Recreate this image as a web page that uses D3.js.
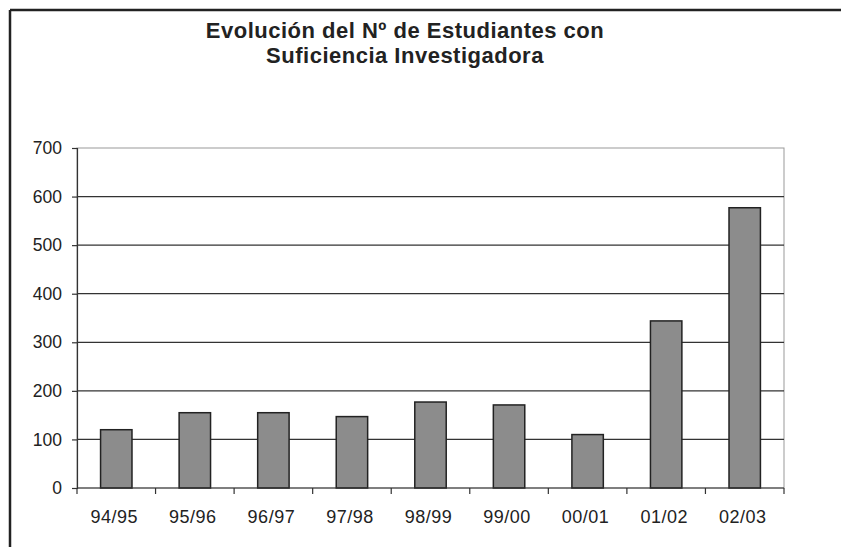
<!DOCTYPE html>
<html>
<head>
<meta charset="utf-8">
<script src="https://cdn.jsdelivr.net/npm/d3@7"></script>
<style>
  html, body { margin: 0; padding: 0; background: #fff; }
  svg { display: block; }
  text { font-family: "Liberation Sans", Arial, sans-serif; fill: #222; }
</style>
</head>
<body>
<svg id="chart" width="841" height="547"></svg>
<script>
// Academic years and number of students awarded "Suficiencia Investigadora"
const cursos = ["94/95", "95/96", "96/97", "97/98", "98/99", "99/00", "00/01", "01/02", "02/03"];
const estudiantes = [120, 155, 155, 147, 177, 171, 110, 344, 577];
const yTicks = [0, 100, 200, 300, 400, 500, 600, 700];
const tituloLineas = ["Evolución del Nº de Estudiantes con", "Suficiencia Investigadora"];

const svg = d3.select("#chart");
const W = 841, H = 547;
const m = { left: 77, right: 784, top: 148, bottom: 488 };

// Outer frame: top and left edges
svg.append("line").attr("x1", 10).attr("x2", W).attr("y1", 10).attr("y2", 10)
  .attr("stroke", "#222").attr("stroke-width", 2.5);
svg.append("line").attr("x1", 10).attr("x2", 10).attr("y1", 10).attr("y2", H)
  .attr("stroke", "#222").attr("stroke-width", 2.5);

// Title
const title = svg.append("text")
  .attr("x", 405).attr("y", 38)
  .attr("text-anchor", "middle")
  .style("font-size", "22px").style("font-weight", "bold")
  .style("letter-spacing", "0.5px");
tituloLineas.forEach((t, i) => {
  title.append("tspan").attr("x", 405).attr("dy", i === 0 ? 0 : 25).text(t);
});

const x = d3.scaleBand().domain(cursos).range([m.left, m.right]).paddingInner(0.6).paddingOuter(0.3);
const xEdge = d3.scaleBand().domain(cursos).range([m.left, m.right]);
const y = d3.scaleLinear().domain([0, 700]).range([m.bottom, m.top]);

// Plot area border
svg.append("rect")
  .attr("x", m.left).attr("y", m.top)
  .attr("width", m.right - m.left).attr("height", m.bottom - m.top)
  .attr("fill", "none").attr("stroke", "#999").attr("stroke-width", 1);

// Horizontal gridlines
svg.append("g").selectAll("line").data(yTicks.filter(d => d > 0 && d < 700)).join("line")
  .attr("x1", m.left).attr("x2", m.right)
  .attr("y1", d => y(d)).attr("y2", d => y(d))
  .attr("stroke", "#333").attr("stroke-width", 1.2);

// Y axis
const yAxis = svg.append("g")
  .attr("transform", `translate(${m.left},0)`)
  .call(d3.axisLeft(y).tickValues(yTicks).tickSize(5).tickPadding(10));
yAxis.select(".domain").attr("stroke", "#333").attr("stroke-width", 1.2);
yAxis.selectAll(".tick line").attr("stroke", "#333").attr("stroke-width", 1.2);
yAxis.selectAll(".tick text")
  .style("font-size", "17.5px").style("font-family", "Liberation Sans, Arial, sans-serif")
  .attr("fill", "#222");

// Bars
svg.append("g").selectAll("rect").data(cursos).join("rect")
  .attr("x", d => x(d))
  .attr("y", (d, i) => y(estudiantes[i]))
  .attr("width", x.bandwidth())
  .attr("height", (d, i) => y(0) - y(estudiantes[i]))
  .attr("fill", "#8c8c8c")
  .attr("stroke", "#222").attr("stroke-width", 1.5);

// X axis: baseline, ticks on category boundaries, centered labels
const xAxisG = svg.append("g");
xAxisG.append("line")
  .attr("x1", m.left).attr("x2", m.right).attr("y1", m.bottom).attr("y2", m.bottom)
  .attr("stroke", "#333").attr("stroke-width", 1.2);
const edges = cursos.map(d => xEdge(d)).concat([m.right]);
xAxisG.selectAll("line.tk").data(edges).join("line").attr("class", "tk")
  .attr("x1", d => d).attr("x2", d => d)
  .attr("y1", m.bottom).attr("y2", m.bottom + 6)
  .attr("stroke", "#333").attr("stroke-width", 1.2);
xAxisG.selectAll("text").data(cursos).join("text")
  .attr("x", d => xEdge(d) + xEdge.bandwidth() / 2 - 2)
  .attr("y", 523)
  .attr("text-anchor", "middle")
  .style("font-size", "18px")
  .style("letter-spacing", "0.5px")
  .text(d => d);
</script>
</body>
</html>
